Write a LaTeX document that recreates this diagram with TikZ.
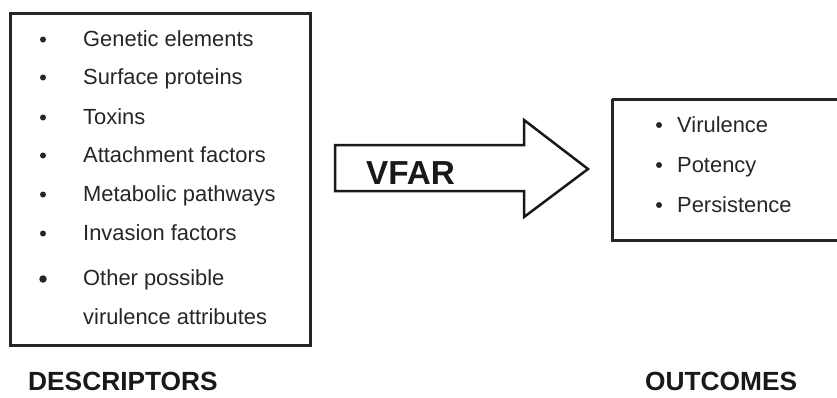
\documentclass[tikz,border=0pt]{standalone}
\usepackage{fontspec}
\setmainfont{Liberation Sans}
\begin{document}
\begin{tikzpicture}[x=1pt,y=-1pt,
  frame/.style={draw=black!85,line width=3pt},
  item/.style={anchor=base west,inner sep=0pt,text=black!85,font=\fontsize{21.9}{26}\selectfont},
  dot/.style={circle,fill=black!85,inner sep=0pt,minimum size=6pt},
  caption/.style={anchor=base west,inner sep=0pt,text=black!90,font=\bfseries\fontsize{26.3}{30}\selectfont}]
\useasboundingbox (0,0) rectangle (837,397);
\begin{scope}
\clip (0,0) rectangle (837,397);
% descriptor list box
\draw[frame] (10,13) rectangle (310,345);
% outcome list box (runs off the right edge)
\draw[frame] (612,99) -- (850,99) (612,99) -- (612,240) -- (850,240);
\end{scope}

% descriptor items
\foreach \yy/\txt [count=\i] in {46.5/Genetic elements, 84.5/Surface proteins, 124.5/Toxins,
    162.5/Attachment factors, 201.5/Metabolic pathways, 240.5/Invasion factors} {
  \node[dot] (db\i) at (43,\yy-7) {};
  \node[item] (d\i) at (83,\yy) {\txt};
}
\node[dot,minimum size=7.5pt] (db7) at (43,279) {};
\node[item] (d7) at (83,285.5) {Other possible};
\node[item] (d8) at (83,324.5) {virulence attributes};

% outcome items
\foreach \yy/\txt [count=\i] in {132/Virulence, 172/Potency, 212/Persistence} {
  \node[dot] (ob\i) at (659,\yy-7) {};
  \node[item] (o\i) at (677,\yy) {\txt};
}

% block arrow from descriptors to outcomes
\draw[draw=black!90,line width=2.5pt,line join=miter]
  (335,145) -- (524,145) -- (524,120) -- (588,169) -- (524,217) -- (524,191) -- (335,191) -- cycle;
\node[anchor=base west,inner sep=0pt,text=black!90,font=\bfseries\fontsize{33.3}{38}\selectfont] (vfar) at (366,184) {VFAR};

% captions
\node[caption] (desc) at (28,390) {DESCRIPTORS};
\node[caption] (outc) at (645,390) {OUTCOMES};
\end{tikzpicture}
\end{document}
